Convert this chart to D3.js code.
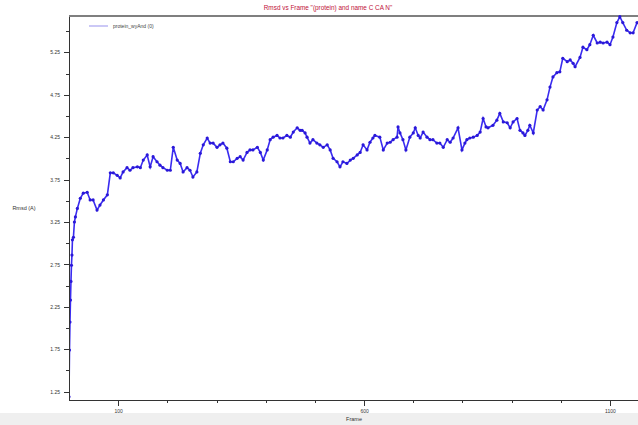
<!DOCTYPE html>
<head>
<meta charset="utf-8">
<script src="https://cdn.jsdelivr.net/npm/d3@7"></script>
<style>
body { margin: 0; font-family: "Liberation Sans", Arial, sans-serif; background: #fff; }
.axis path, .axis line { stroke: #333; stroke-width: 1; shape-rendering: crispEdges; }
.axis text { font-size: 5px; fill: #333; }
.line { fill: none; stroke: #3a2cf0; stroke-width: 1.6px; }
.dot { fill: #2a18d8; }
</style>
</head>
<body>
<div id="chart"></div>
<script>
// frames and rmsd values
var frames = [0,1,2,3,4,5,6,7,9,11,13,17,23,29,37,43,49,57,63,70,78,84,90,98,104,110,118,124,130,139,145,151,159,165,171,179,185,191,200,206,212,220,226,232,240,246,252,260,267,273,281,287,293,301,307,313,321,328,334,342,348,354,362,368,374,383,389,395,403,409,415,423,429,435,443,450,456,464,470,474,480,484,490,496,504,510,517,525,531,537,545,551,557,565,572,578,586,592,598,606,612,618,622,632,639,647,653,659,667,669,673,679,685,693,700,704,710,714,720,728,734,740,748,754,761,769,775,781,791,799,805,809,815,822,830,836,842,848,852,862,870,876,883,891,897,903,911,917,923,927,933,937,944,952,958,964,972,978,984,992,998,1004,1013,1019,1025,1029,1039,1045,1053,1059,1066,1074,1080,1086,1094,1100,1106,1114,1120,1126,1134,1141,1147,1155];
var rmsd = [1.19,1.74,2.07,2.33,2.55,2.74,2.86,3.04,3.07,3.25,3.31,3.41,3.53,3.59,3.60,3.51,3.51,3.39,3.45,3.51,3.57,3.83,3.83,3.80,3.77,3.84,3.89,3.86,3.89,3.90,3.89,3.98,4.04,3.90,4.02,3.96,3.92,3.89,3.86,3.86,4.13,3.98,3.94,3.84,3.89,3.86,3.78,3.84,4.06,4.16,4.24,4.18,4.18,4.13,4.16,4.18,4.12,3.96,3.96,4.00,4.02,3.98,4.07,4.10,4.10,4.13,4.07,3.98,4.10,4.22,4.25,4.27,4.24,4.24,4.27,4.25,4.31,4.36,4.33,4.33,4.30,4.25,4.18,4.22,4.18,4.16,4.13,4.16,4.10,4.00,3.96,3.90,3.96,3.94,3.98,4.00,4.04,4.07,4.16,4.10,4.19,4.24,4.27,4.25,4.10,4.18,4.19,4.22,4.25,4.37,4.30,4.22,4.10,4.25,4.30,4.36,4.27,4.24,4.31,4.25,4.22,4.22,4.18,4.18,4.13,4.22,4.19,4.24,4.36,4.10,4.18,4.22,4.24,4.25,4.27,4.31,4.47,4.37,4.36,4.39,4.45,4.53,4.43,4.42,4.36,4.43,4.47,4.33,4.30,4.27,4.33,4.39,4.30,4.57,4.61,4.57,4.69,4.84,4.96,5.01,5.02,5.18,5.14,5.16,5.12,5.08,5.19,5.31,5.28,5.34,5.45,5.36,5.37,5.36,5.37,5.34,5.43,5.60,5.67,5.60,5.51,5.48,5.48,5.60];

var xMajor = [100, 600, 1100];
var xMinor = [200, 300, 400, 500, 700, 800, 900, 1000];
var yMajor = [1.25, 1.75, 2.25, 2.75, 3.25, 3.75, 4.25, 4.75, 5.25];
var yMinor = [1.5, 2.0, 2.5, 3.0, 3.5, 4.0, 4.5, 5.0, 5.5];

var data = frames.map(function(f, i) { return {frame: f, rmsd: rmsd[i]}; });

var W = 638, H = 425;
var plotLeft = 69, plotTop = 16, plotRight = 640, plotBottom = 400;

var x = d3.scaleLinear().domain([0, 1161]).range([plotLeft, plotRight]);
var y = d3.scaleLinear().domain([1.152, 5.678]).range([plotBottom, plotTop]);

var svg = d3.select("#chart").append("svg")
    .attr("width", W)
    .attr("height", H);

// grey band at the bottom
svg.append("rect")
    .attr("x", 0).attr("y", 413)
    .attr("width", W).attr("height", H - 413)
    .attr("fill", "#efefef");

// title
svg.append("text")
    .attr("x", 328).attr("y", 10)
    .attr("text-anchor", "middle")
    .style("font-size", "6.4px")
    .style("fill", "#c0103a")
    .text("Rmsd vs Frame \"(protein) and name C CA N\"");

// top frame line
svg.append("line")
    .attr("x1", plotLeft).attr("x2", W)
    .attr("y1", plotTop).attr("y2", plotTop)
    .attr("stroke", "#555").attr("stroke-width", 1.5);

svg.append("defs").append("clipPath")
    .attr("id", "clip")
    .append("rect")
    .attr("x", plotLeft).attr("y", plotTop - 2)
    .attr("width", W - plotLeft).attr("height", plotBottom - plotTop + 2);

var line = d3.line()
    .x(function(d) { return x(d.frame); })
    .y(function(d) { return y(d.rmsd); });

var plot = svg.append("g").attr("clip-path", "url(#clip)");

plot.append("path")
    .datum(data)
    .attr("class", "line")
    .attr("d", line);

plot.selectAll(".dot")
    .data(data)
    .enter().append("circle")
    .attr("class", "dot")
    .attr("cx", function(d) { return x(d.frame); })
    .attr("cy", function(d) { return y(d.rmsd); })
    .attr("r", 1.6);

// x axis
svg.append("g")
    .attr("class", "axis")
    .attr("transform", "translate(0," + plotBottom + ")")
    .call(d3.axisBottom(x).tickValues(xMinor).tickSize(3).tickFormat(""))
    .select(".domain").remove();

var xa = svg.append("g")
    .attr("class", "axis")
    .attr("transform", "translate(0," + plotBottom + ")")
    .call(d3.axisBottom(x).tickValues(xMajor).tickSize(6).tickPadding(3).tickSizeOuter(0)
        .tickFormat(d3.format("d")));
xa.select(".domain").attr("stroke-width", 1.5);

// y axis
svg.append("g")
    .attr("class", "axis")
    .attr("transform", "translate(" + plotLeft + ",0)")
    .call(d3.axisLeft(y).tickValues(yMinor).tickSize(3).tickFormat(""))
    .select(".domain").remove();

var ya = svg.append("g")
    .attr("class", "axis")
    .attr("transform", "translate(" + plotLeft + ",0)")
    .call(d3.axisLeft(y).tickValues(yMajor).tickSize(5).tickPadding(4).tickSizeOuter(0)
        .tickFormat(d3.format(".2f")));
ya.select(".domain").attr("stroke-width", 1.5);

// axis labels
svg.append("text")
    .attr("x", 354).attr("y", 421)
    .attr("text-anchor", "middle")
    .style("font-size", "5.5px").style("fill", "#333")
    .text("Frame");

svg.append("text")
    .attr("x", 24).attr("y", 210)
    .attr("text-anchor", "middle")
    .style("font-size", "5.5px").style("fill", "#333")
    .text("Rmsd (A)");

// legend
svg.append("line")
    .attr("x1", 89).attr("x2", 108)
    .attr("y1", 26).attr("y2", 26)
    .attr("stroke", "#a8a4f0").attr("stroke-width", 1.2);

svg.append("text")
    .attr("x", 113).attr("y", 28)
    .style("font-size", "5px").style("fill", "#444")
    .text("protein_wyAnd (0)");
</script>
</body>
